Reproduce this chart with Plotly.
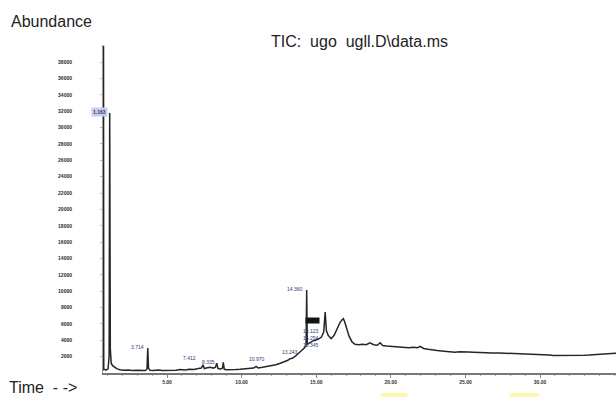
import plotly.graph_objects as go

# ---- data ----
time_min = [0.71, 0.73, 0.745, 0.76, 0.90, 1.05, 1.12, 1.16, 1.20, 1.26, 1.35, 1.50, 1.65, 1.85,
            2.10, 2.40, 2.70, 3.00, 3.30, 3.55, 3.66, 3.71, 3.76, 3.85, 4.10, 4.40, 4.70, 5.00,
            5.30, 5.60, 5.90, 6.20, 6.50, 6.80, 7.10, 7.30, 7.41, 7.50, 7.70, 7.90, 8.10, 8.25,
            8.33, 8.42, 8.60, 8.72, 8.77, 8.84, 9.00, 9.30, 9.60, 9.90, 10.20, 10.50, 10.80,
            10.97, 11.10, 11.40, 11.70, 12.00, 12.30, 12.60, 12.90, 13.10, 13.24, 13.40, 13.60,
            13.80, 14.00, 14.20, 14.32, 14.36, 14.40, 14.55, 14.75, 14.95, 15.15, 15.35, 15.50,
            15.60, 15.68, 15.80, 16.00, 16.20, 16.40, 16.60, 16.75, 16.82, 16.90, 17.05, 17.20,
            17.40, 17.60, 17.85, 18.10, 18.35, 18.60, 18.85, 19.10, 19.28, 19.45, 19.70, 20.00,
            20.30, 20.60, 20.90, 21.20, 21.50, 21.80, 21.96, 22.20, 22.50, 22.80, 23.10, 23.40,
            23.70, 24.00, 24.30, 24.60, 24.90, 25.20, 25.50, 25.80, 26.10, 26.40, 26.70, 27.00,
            27.30, 27.60, 27.90, 28.20, 28.50, 28.80, 29.10, 29.40, 29.70, 30.00, 30.30, 30.60,
            30.90, 31.20, 31.50, 31.80, 32.10, 32.40, 32.70, 33.00, 33.30, 33.60, 33.90, 34.20,
            34.50, 34.80, 35.09]
abundance = [300, 500, 40000, 500, 350, 500, 2000, 31800, 3000, 1200, 900, 700, 500, 400,
             330, 380, 300, 350, 320, 300, 500, 3050, 600, 320, 300, 380, 320, 300,
             360, 330, 420, 380, 470, 420, 550, 600, 1000, 550, 650, 700, 600, 700,
             1200, 550, 500, 600, 1300, 450, 400, 380, 420, 450, 500, 520, 600,
             800, 620, 700, 800, 880, 1000, 1200, 1400, 1550, 1750, 1800, 2050,
             2350, 2700, 3050, 3350, 10140, 3500, 3700, 3900, 4000, 4150, 4400, 5000,
             7450, 5200, 4600, 4200, 4600, 5400, 6200, 6550, 6650, 6300, 5400, 4500,
             3800, 3500, 3450, 3500, 3450, 3700, 3450, 3400, 3700, 3350, 3300, 3250,
             3200, 3150, 3150, 3100, 3150, 3100, 3250, 3000, 2900, 2800, 2750, 2700,
             2650, 2600, 2550, 2600, 2620, 2580, 2550, 2500, 2520, 2480, 2450, 2480,
             2450, 2420, 2400, 2380, 2400, 2350, 2330, 2300, 2280, 2250, 2220, 2200,
             2150, 2150, 2130, 2100, 2120, 2130, 2150, 2180, 2200, 2250, 2280, 2300,
             2330, 2370, 2400]

y_ticks = list(range(2000, 40000, 2000))
y_tick_labels = [str(v) for v in y_ticks]
x_ticks = [5, 10, 15, 20, 25, 30]
x_tick_labels = ["5.00", "10.00", "15.00", "20.00", "25.00", "30.00"]

# peak retention-time labels (position in time / abundance, text)
label_t = [2.99, 6.54, 7.75, 11.03, 13.24, 13.58, 14.65, 14.65, 14.65]
label_a = [3180, 1830, 1340, 1710, 2570, 10260, 5130, 4280, 3420]
label_text = ["3.714", "7.412", "8.335", "10.970", "13.243", "14.360",
              "15.123", "15.254", "15.345"]
first_label = dict(t=0.745, a=31900, text="1.163")
bar_label = dict(t=14.75, a=6480, text="15.601")

fig = go.Figure()
fig.add_trace(go.Scatter(x=time_min, y=abundance, mode="lines",
                         line=dict(color="#262626", width=1.5),
                         hoverinfo="skip", showlegend=False))

label_font = dict(size=5, color="#2d3a7a", family="Liberation Sans")
annotations = []
for t, a, s in zip(label_t, label_a, label_text):
    annotations.append(dict(x=t, y=a, xref="x", yref="y", text=s, showarrow=False,
                            font=label_font, xanchor="center", yanchor="middle"))
annotations.append(dict(x=first_label["t"], y=first_label["a"], xref="x", yref="y",
                        text="<b>" + first_label["text"] + "</b>", showarrow=False,
                        font=dict(size=5, color="#2d3a7a", family="Liberation Sans"),
                        bgcolor="#c9cde6", xanchor="center", yanchor="middle", xshift=-4))
annotations.append(dict(x=bar_label["t"], y=bar_label["a"], xref="x", yref="y",
                        text="<b>" + bar_label["text"] + "</b>", showarrow=False,
                        font=dict(size=4, color="#111111", family="Liberation Sans"),
                        bgcolor="#151515", borderpad=0,
                        xanchor="center", yanchor="middle"))

text_font = dict(size=16, color="#222222", family="Liberation Sans")
annotations += [
    dict(x=-0.183, y=1.073, xref="paper", yref="paper", text="Abundance", showarrow=False,
         xanchor="left", yanchor="middle", font=text_font),
    dict(x=0.323, y=1.010, xref="paper", yref="paper", text="TIC:  ugo  ugll.D\\data.ms",
         showarrow=False, xanchor="left", yanchor="middle", font=text_font),
    dict(x=-0.187, y=-0.045, xref="paper", yref="paper", text="Time  - ->", showarrow=False,
         xanchor="left", yanchor="middle", font=text_font),
]

shapes = [
    dict(type="rect", xref="paper", yref="paper", x0=0.542, x1=0.593, y0=-0.073, y1=-0.061,
         fillcolor="#fff6b0", line=dict(width=0), layer="above"),
    dict(type="rect", xref="paper", yref="paper", x0=0.793, x1=0.850, y0=-0.073, y1=-0.061,
         fillcolor="#fff6b0", line=dict(width=0), layer="above"),
]

fig.update_layout(
    width=616, height=398,
    margin=dict(l=103, r=0, t=45, b=25, pad=0),
    paper_bgcolor="white", plot_bgcolor="white",
    annotations=annotations, shapes=shapes,
    xaxis=dict(range=[0.71, 35.09], showgrid=False, zeroline=False,
               showline=True, linecolor="#777777", linewidth=1.5,
               ticks="outside", ticklen=3, tickcolor="#888888",
               tickvals=x_ticks, ticktext=["<b>" + s + "</b>" for s in x_tick_labels],
               tickfont=dict(size=5, color="#333333", family="Liberation Sans"),
               minor=dict(dtick=1, ticks="outside", ticklen=1.5, tickcolor="#aaaaaa")),
    yaxis=dict(range=[0, 40100], showgrid=False, zeroline=False,
               showline=True, linecolor="#999999", linewidth=1,
               ticks="outside", ticklen=2, tickcolor="#bbbbbb",
               tickvals=y_ticks, ticktext=["<b>" + s + "</b>" for s in y_tick_labels],
               ticklabelstandoff=27,
               tickfont=dict(size=5, color="#2a2a2a", family="Liberation Sans")),
)

fig.write_html("out.html")
